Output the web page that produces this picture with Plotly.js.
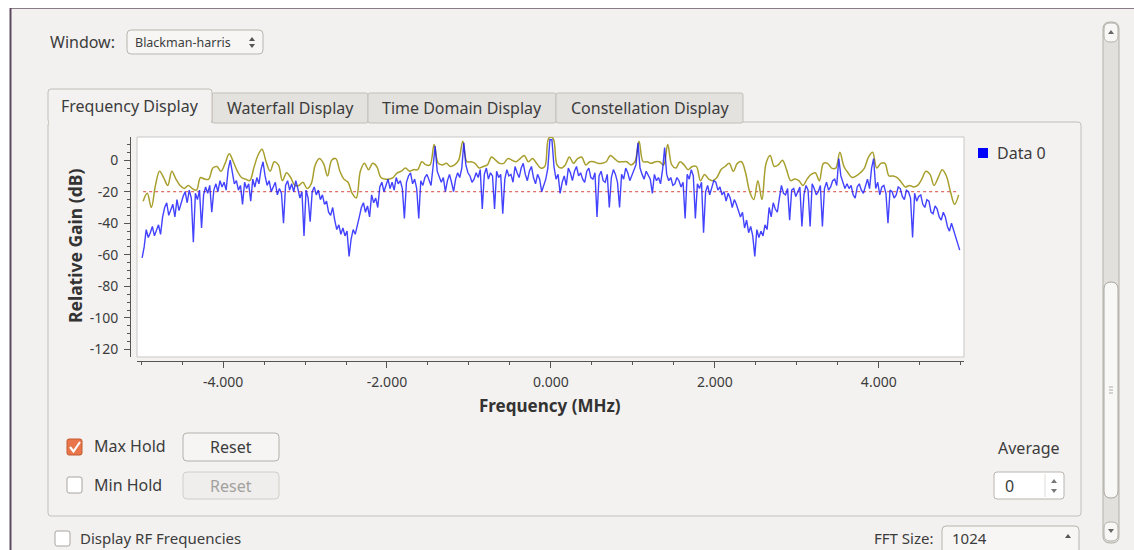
<!DOCTYPE html>
<html><head><meta charset="utf-8">
<script src="https://cdn.plot.ly/plotly-3.0.1.min.js"></script>
<style>html,body{margin:0;padding:0;background:#fff;}#chart{width:1134px;height:550px;}</style>
</head><body><div id="chart"></div>
<script>
// ---- data ----
const psdStart = -4.9875;  // MHz, first FFT bin of the live trace
const psdStep = 0.025;     // MHz per bin
const psdDb = [
 -62,-55,-44,-49,-46,-42,-48,-44,-41,-47,-36,-30,-27,-35,-31,-28,-36,-25,-32,-27,
 -23,-20,-27,-19,-24,-52,-21,-25,-19,-43,-22,-17,-21,-16,-33,-19,-15,-20,-13,-17,
 -14,-19,-6,0,-9,-15,-13,-19,-16,-28,-14,-18,-15,-26,-12,-17,-11,-15,-6,-1,
 -10,-16,-13,-20,-17,-14,-22,-18,-21,-40,-16,-13,-19,-15,-20,-13,-18,-24,-20,-48,
 -19,-24,-39,-20,-17,-22,-19,-25,-22,-28,-26,-33,-35,-30,-38,-44,-41,-47,-43,-48,
 -45,-61,-50,-44,-47,-42,-36,-30,-27,-33,-29,-36,-22,-27,-24,-30,-17,-14,-20,-16,
 -12,-18,-14,-19,-11,-15,-13,-18,-37,-14,-10,-8,-15,-12,-18,-37,-13,-16,-11,-9,
 -13,-16,-4,9,-7,-10,-14,-11,-20,-13,-9,-14,-20,-12,-8,-11,-5,11,-3,-8,
 -10,-14,-12,-8,-11,-6,-31,-9,-5,-12,-8,-10,-31,-7,-11,-9,-34,-12,-6,-10,
 -9,-14,-4,-8,-11,-5,-2,-9,-13,-7,-4,-11,-15,-9,-12,-20,-16,-12,-5,13,
 13,-4,-12,-9,-21,-14,-10,-16,-5,-8,-13,-7,-4,-10,-8,-12,-14,-7,-5,-11,
 -12,-8,-36,-10,-7,-13,-14,-9,-30,-11,-6,-9,-14,-30,-9,-12,-5,-8,-13,-10,
 -7,-3,11,-5,-9,-12,-7,-10,-12,-21,-9,-13,-11,-15,-6,8,-9,-13,-11,-16,
 -15,-11,-13,-17,-14,-37,-9,-12,-6,-10,-37,-15,-18,-14,-46,-20,-16,-22,-18,-13,
 -14,-19,-17,-22,-20,-26,-21,-24,-30,-25,-28,-32,-36,-33,-43,-38,-46,-42,-48,-61,
 -44,-49,-45,-48,-41,-44,-30,-36,-27,-31,-33,-24,-16,-21,-22,-18,-38,-19,-18,-23,
 -20,-17,-42,-22,-16,-19,-42,-15,-18,-22,-20,-16,-42,-18,-14,-19,-17,-13,-12,-16,
 1,-10,-14,-18,-15,-18,-16,-22,-24,-17,-15,-19,-21,-16,-12,-18,-5,1,-18,-14,
 -22,-17,-16,-21,-40,-19,-20,-24,-22,-17,-18,-23,-25,-19,-20,-24,-49,-21,-26,-23,
 -22,-28,-30,-25,-26,-33,-34,-29,-31,-36,-38,-33,-36,-42,-45,-40,-44,-48,-52,-57
];
const holdStart = -4.975;  // MHz, first bin of the max-hold trace
const holdStep = 0.05;     // MHz per bin
const maxHoldDb = [
 -26,-21,-30,-16,-7,-11,-16,-7,-12,-16,
 -18,-16,-18,-19,-11,-12,-12,-5,-4,-7,
 -2,4,-1,-7,-11,-12,-13,-5,3,7,
 -1,-7,-1,-3,-13,-8,-11,-16,-16,-14,
 -18,-15,-3,1,-2,-10,0,1,-7,-12,
 -14,-21,-24,-7,-2,-6,-2,-4,-11,-12,
 -12,-11,-8,-7,-5,-7,-6,-6,-1,-3,
 -3,10,-2,-3,-2,-4,-3,0,12,-1,
 -1,-2,-5,-4,-3,2,0,-2,-2,1,
 0,-1,1,3,-1,1,-2,-5,-4,14,
 14,-3,-5,-3,2,-2,1,2,-3,-1,
 -1,-2,-2,-1,3,1,-1,-1,-1,-3,
 -1,12,-1,-1,-2,-1,-1,-3,10,-3,
 -5,-1,-3,-6,-4,-4,-13,-9,-12,-13,
 -11,-6,-4,-2,-7,-2,-1,-8,-20,-25,
 -13,-25,-2,3,-4,-3,0,-6,-13,-12,
 -13,-16,-12,-9,-8,-13,-2,-2,-5,-5,
 5,-4,-8,-11,-10,-8,-5,2,5,-5,
 -2,-2,-10,-10,-11,-14,-17,-16,-17,-16,
 -12,-7,-9,-16,-11,-6,-10,-20,-28,-22
];
const thresholdDb = -20;
const thresholdSpan = [-4.975, 4.975];
const yTickVals = [0,-20,-40,-60,-80,-100,-120];
const yTickText = ["0","-20","-40","-60","-80","-100","-120"];
const xTickVals = [-4,-2,0,2,4];
const xTickText = ["-4.000","-2.000","0.000","2.000","4.000"];
const seriesName = "Data 0";

// ---- geometry helpers (pixel -> paper) ----
const W = 1134, H = 550;
const P = x => x / W;
const Q = y => 1 - y / H;
const FONT = "Noto Sans, Open Sans, sans-serif";
const TXT = "#3c3c3c";

const shapes = [];
function rect(x0,y0,x1,y1,fill,line,lw){
  shapes.push({type:'rect',xref:'paper',yref:'paper',x0:P(x0),x1:P(x1),y0:Q(y1),y1:Q(y0),
    fillcolor:fill,line:{color:line||'rgba(0,0,0,0)',width:lw===undefined?1:lw},layer:'below'});
}
function rr(x0,y0,x1,y1,r,fill,line,lw){
  const a=P(x0),b=P(x1),c=Q(y0),d=Q(y1),rx=r/W,ry=r/H;
  const p=`M ${a+rx},${c} L ${b-rx},${c} Q ${b},${c} ${b},${c-ry} L ${b},${d+ry} Q ${b},${d} ${b-rx},${d} L ${a+rx},${d} Q ${a},${d} ${a},${d+ry} L ${a},${c-ry} Q ${a},${c} ${a+rx},${c} Z`;
  shapes.push({type:'path',xref:'paper',yref:'paper',path:p,fillcolor:fill,
    line:{color:line||'rgba(0,0,0,0)',width:lw===undefined?1:lw},layer:'below'});
}
function poly(pts,fill,line,lw,closed){
  let p = pts.map((q,i)=>(i?'L ':'M ')+P(q[0])+','+Q(q[1])).join(' ');
  if(closed) p += ' Z';
  shapes.push({type:'path',xref:'paper',yref:'paper',path:p,fillcolor:fill||'rgba(0,0,0,0)',
    line:{color:line||'rgba(0,0,0,0)',width:lw||1},layer:'above'});
}
function line(x0,y0,x1,y1,color,w,dash){
  shapes.push({type:'line',xref:'paper',yref:'paper',x0:P(x0),y0:Q(y0),x1:P(x1),y1:Q(y1),
    line:{color:color,width:w||1,dash:dash||'solid'},layer:'below'});
}
function upTri(x,y,c){poly([[x-3,y+2],[x+3,y+2],[x,y-2]],c||'#555','rgba(0,0,0,0)',0.1,true);}
function dnTri(x,y,c){poly([[x-3,y-2],[x+3,y-2],[x,y+2]],c||'#555','rgba(0,0,0,0)',0.1,true);}

const ann = [];
function text(t,x,y,o){
  o=o||{};
  ann.push({text:t,xref:'paper',yref:'paper',x:P(x),y:Q(y),showarrow:false,
    xanchor:o.xa||'left',yanchor:'middle',textangle:o.angle||0,
    font:{family:FONT,size:o.size||16,color:o.color||TXT,weight:o.weight||'normal'}});
}

// window background + frame
rect(10,8,1134,550,'#f2f1f0');
line(10,8.5,1134,8.5,'#8a7c89',1.2);
line(10.5,8,10.5,550,'#5e4a5d',2);

// Window selector
text('Window:',48,42,{size:16});
rr(127,30,263,54,4,'#f7f6f5','#b9b4ae',1);
text('Blackman-harris',133,42,{size:12.5});
upTri(252,39,'#555'); dnTri(252,46,'#555');

// tab pane
rr(48,122,1081,516,3,'#f3f2f1','#c3beb8',1);
rr(212,93,368,123,2,'#e4e2df','#c3beb8',1);
rr(368,93,556,123,2,'#e4e2df','#c3beb8',1);
rr(556,93,743,123,2,'#e4e2df','#c3beb8',1);
rr(48,89,212,123,3,'#f3f2f1','#c3beb8',1);
rect(49,120,211,125,'#f3f2f1','rgba(0,0,0,0)',0);
text('Frequency Display',130,106,{xa:'center',size:16});
text('Waterfall Display',290,108,{xa:'center',size:16});
text('Time Domain Display',462,108,{xa:'center',size:16});
text('Constellation Display',650,108,{xa:'center',size:16});

// plot canvas
rect(137,137,964,357,'#ffffff','#c9c7c3',1);

// legend
rect(978,148,988,158,'#0000ff');
text(seriesName,995,153,{size:16});

// axis titles
text('Relative Gain (dB)',75,246,{xa:'center',angle:-90,size:17.5,weight:'bold',color:'#333'});
text('Frequency (MHz)',550,405,{xa:'center',size:17,weight:'bold',color:'#333'});

// Max hold
rr(67,439,82,455,2,'#e8764a','#c45a30',1);
poly([[70,447],[73.5,451.5],[80,442]],null,'#ffffff',2.2,false);
text('Max Hold',92,446,{size:16});
rr(183,433,279,461,4,'#f6f5f4','#b5b0aa',1);
text('Reset',231,447,{xa:'center',size:16});
// Min hold
rr(67,477,82,493,2,'#ffffff','#a9a49e',1);
text('Min Hold',92,485,{size:16});
rr(183,472,279,499,4,'#efeeec','#d2cec9',1);
text('Reset',231,486,{xa:'center',size:16,color:'#a3a19e'});

// Average
text('Average',1062,448,{xa:'right',size:16});
rr(994,472,1064,499,3,'#ffffff','#b9b4ae',1);
line(1045,474,1045,497,'#e0ddd9',1);
text('0',1003,486,{size:16});
upTri(1054,481,'#777'); dnTri(1054,491,'#777');

// bottom row
rr(55,531,70,546,2,'#ffffff','#a9a49e',1);
text('Display RF Frequencies',78,538,{size:15});
text('FFT Size:',935,538,{xa:'right',size:15});
rr(942,526,1079,556,4,'#f7f6f5','#b9b4ae',1);
text('1024',950,538,{size:15});
upTri(1068,536,'#555');

// scrollbar
rr(1103,22,1119,543,7,'#e2e0dc','#b5b0a9',1);
rr(1104,23,1118,42,6,'#f8f7f6','#b5b0a9',1);
upTri(1111,32,'#666');
rr(1104,282,1118,498,7,'#f8f8f7','#aba69f',1);
line(1109,387,1113,387,'#b0aba5',1);
line(1109,390,1113,390,'#b0aba5',1);
line(1109,393,1113,393,'#b0aba5',1);
rr(1104,522,1118,541,6,'#f8f7f6','#b5b0a9',1);
dnTri(1111,531,'#666');

// ---- traces ----
const traces = [
  {type:'scatter',mode:'lines',x:thresholdSpan,y:[thresholdDb,thresholdDb],
   line:{color:'#d9473f',width:1,dash:'dot'},showlegend:false,hoverinfo:'skip'},
  {type:'scatter',mode:'lines',x0:holdStart,dx:holdStep,y:maxHoldDb,
   line:{color:'#a89f2e',width:1.5,shape:'spline',smoothing:1},showlegend:false,name:'Max Hold'},
  {type:'scatter',mode:'lines',x0:psdStart,dx:psdStep,y:psdDb,
   line:{color:'rgba(20,20,255,0.8)',width:1.4},showlegend:false,name:seriesName}
];

const axisFont = {family:FONT,size:14,color:TXT};
const layout = {
  width:W,height:H,margin:{l:0,r:0,t:0,b:0},
  paper_bgcolor:'#ffffff',plot_bgcolor:'rgba(0,0,0,0)',
  showlegend:false,
  xaxis:{domain:[P(137),P(964)],range:[-5.05,5.04],anchor:'free',position:Q(361),
    showgrid:false,zeroline:false,showline:true,linecolor:'#555',linewidth:1,
    ticks:'outside',ticklen:6,tickcolor:'#555',tickvals:xTickVals,ticktext:xTickText,
    tickfont:axisFont,ticklabelstandoff:2,
    minor:{dtick:0.5,ticklen:3,tickcolor:'#555',ticks:'outside',showgrid:false},
    fixedrange:true},
  yaxis:{domain:[Q(357),Q(137)],range:[-124.8,14.7],anchor:'free',position:P(130),
    showgrid:false,zeroline:false,showline:true,linecolor:'#555',linewidth:1,
    ticks:'outside',ticklen:6,tickcolor:'#555',tickvals:yTickVals,ticktext:yTickText,
    tickfont:axisFont,ticklabelstandoff:3,
    minor:{dtick:5,ticklen:3,tickcolor:'#555',ticks:'outside',showgrid:false},
    fixedrange:true},
  shapes:shapes,annotations:ann
};
Plotly.newPlot('chart',traces,layout,{displayModeBar:false,staticPlot:true});
</script></body></html>
